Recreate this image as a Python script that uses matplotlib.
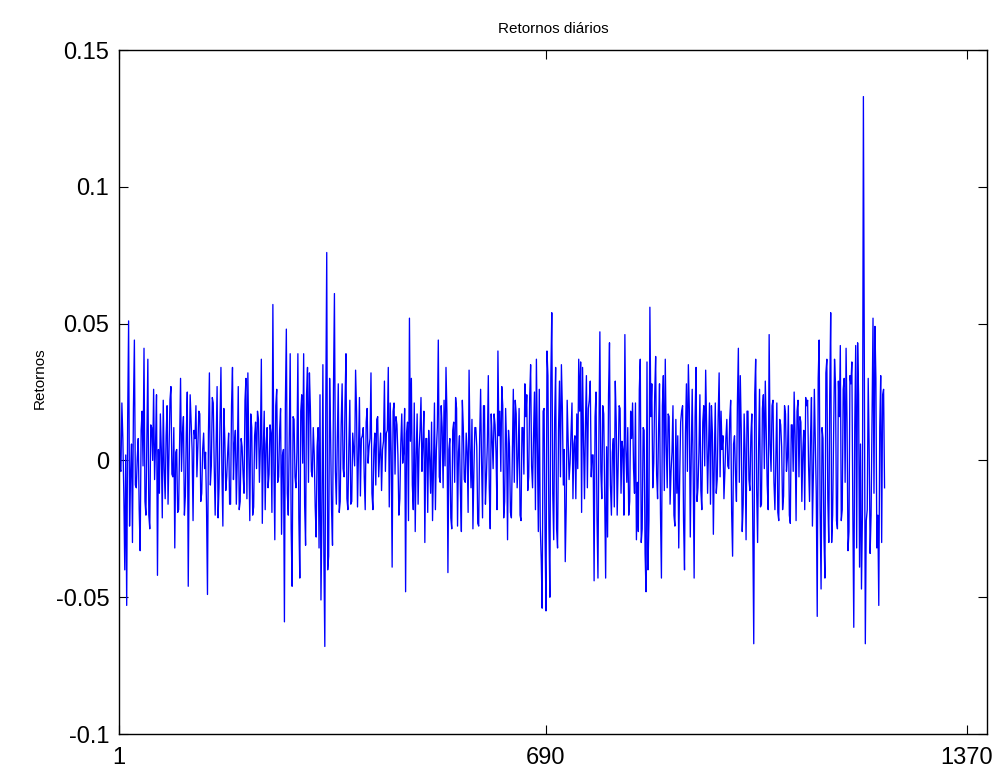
import numpy as np
import matplotlib
matplotlib.use("Agg")
import matplotlib.pyplot as plt

plt.rcParams['font.family'] = ['Liberation Sans', 'DejaVu Sans']
plt.rcParams['axes.unicode_minus'] = False

# retornos diários, lidos em quatro blocos ao longo da série
ret_bloco1 = [
    0.046, -0.004, 0.008, -0.040, -0.053, 0.051, -0.005, -0.030, 0.044, -0.010,
    0.008, -0.033, 0.018, 0.041, -0.020, 0.037, -0.025, 0.012, 0.026, 0.006,
    -0.042, -0.012, 0.004, 0.022, -0.014, 0.020, 0.002, 0.027, -0.006, -0.032,
    0.004, -0.018, 0.030, 0.010, -0.020, 0.010, -0.046, 0.024, 0.004, 0.011,
    0.020, 0.005, 0.017, -0.012, 0.010, 0.003, -0.049, 0.032, -0.002, 0.021,
    -0.020, 0.027, -0.010, 0.034, -0.024, 0.008, -0.006, 0.010, -0.016, 0.034,
    0.006, -0.016, 0.027, -0.015, 0.005, -0.012, 0.030, 0.032, -0.022, 0.012,
    -0.017, 0.014, 0.018, -0.008, 0.037, 0.004, -0.018, 0.012, -0.005, 0.010,
    0.057, -0.029, 0.026, -0.006, 0.019, 0.002, -0.059, 0.048, -0.020, 0.039,
    -0.046, 0.015, -0.010, 0.039, -0.043, 0.024, 0.039, -0.031, 0.034,
]
ret_bloco2 = [
    0.032, -0.004, 0.012, -0.017, 0.005, -0.032, -0.051, 0.035, -0.068, 0.076,
    -0.035, 0.010, -0.031, 0.061, -0.016, 0.028, -0.015, 0.028, -0.006, 0.039,
    -0.018, 0.022, -0.015, 0.004, 0.033, -0.017, 0.023, 0.008, 0.012, -0.018,
    0.019, 0.005, 0.032, -0.018, 0.010, 0.015, -0.006, 0.010, 0.004, 0.029,
    0.010, 0.034, 0.021, -0.039, 0.021, 0.016, 0.002, -0.014, 0.017, 0.003,
    -0.048, 0.014, 0.052, 0.030, -0.018, -0.026, 0.017, 0.004, 0.023, 0.006,
    -0.030, 0.008, 0.011, -0.012, -0.022, 0.021, 0.004, 0.044, -0.008, 0.012,
    0.022, 0.034, -0.041, 0.008, -0.025, 0.014, 0.023, -0.024, 0.009, -0.026,
    0.012, -0.008, 0.003, 0.033, -0.010, -0.025, 0.012, 0.005, -0.024, 0.026,
    -0.021, 0.020, -0.006, 0.031, -0.025, 0.008, 0.017, 0.003, 0.040,
]
ret_bloco3 = [
    0.018, 0.027, -0.021, 0.019, -0.029, 0.005, -0.021, 0.026, 0.022, -0.010,
    0.019, -0.022, 0.012, 0.028, 0.024, -0.006, 0.035, -0.010, 0.025, 0.037,
    -0.026, -0.024, -0.054, 0.019, -0.055, 0.031, -0.050, 0.054, -0.029, 0.034,
    -0.032, 0.029, 0.035, -0.009, -0.037, 0.022, -0.007, 0.010, -0.014, 0.009,
    0.017, 0.037, 0.036, 0.034, -0.014, 0.031, 0.019, 0.029, 0.002, -0.044,
    0.025, -0.043, 0.047, -0.014, 0.017, -0.043, -0.028, 0.043, -0.020, 0.008,
    0.029, -0.020, 0.020, -0.012, 0.004, 0.046, -0.008, -0.020, 0.018, 0.021,
    -0.012, -0.029, -0.026, 0.037, -0.025, 0.011, -0.048, -0.040, 0.056, 0.028,
    -0.001, 0.038, -0.014, 0.028, -0.043, 0.031, 0.037, -0.010, 0.016, -0.004,
    0.020, -0.024, -0.012, -0.032, 0.014, 0.020, -0.040, 0.028, 0.035, -0.028,
]
ret_bloco4 = [
    0.026, -0.043, 0.034, -0.010, 0.024, -0.018, 0.020, 0.033, -0.012, 0.021,
    0.020, -0.027, 0.021, -0.007, 0.032, 0.018, 0.009, -0.004, 0.015, -0.003,
    0.022, -0.035, 0.009, -0.015, 0.041, 0.031, -0.026, 0.017, -0.029, 0.018,
    -0.011, 0.017, -0.067, 0.037, -0.030, 0.026, -0.016, 0.024, 0.029, -0.009,
    0.046, -0.004, 0.022, -0.018, 0.021, -0.022, 0.013, -0.018, 0.020, -0.004,
    0.020, -0.023, 0.013, 0.025, -0.022, 0.022, 0.016, -0.015, 0.011, 0.023,
    0.022, -0.015, 0.023, -0.005, 0.006, -0.057, 0.044, -0.047, 0.008, -0.043,
    0.037, -0.030, 0.054, -0.020, 0.037, -0.022, 0.029, 0.042, -0.018, 0.030,
    0.041, -0.033, 0.031, 0.036, -0.061, 0.042, 0.043, -0.039, -0.047, 0.133,
    -0.067, -0.018, 0.004, -0.020, 0.052, 0.049, -0.032, -0.053, 0.031, 0.024,
    -0.010,
]

# dias intermediários (um entre cada par dos blocos acima)
ret_meio1 = [
    -0.003, 0.021, -0.012, 0.002, 0.015, -0.024, 0.006, 0.019, -0.009, 0.001,
    -0.018, 0.011, -0.002, -0.015, 0.008, -0.020, 0.013, 0.000, -0.007, 0.024,
    0.004, 0.017, -0.021, -0.003, 0.009, -0.016, 0.022, -0.005, 0.012, 0.003,
    -0.019, 0.007, -0.004, 0.016, -0.013, 0.025, -0.001, 0.014, -0.022, 0.008,
    -0.006, 0.018, -0.015, 0.004, -0.003, -0.017, 0.010, -0.009, 0.023, -0.002,
    0.006, -0.021, 0.014, -0.004, 0.019, -0.011, 0.003, -0.016, 0.020, -0.007,
    0.011, 0.001, -0.018, 0.008, -0.005, 0.022, -0.014, 0.002, 0.017, -0.020,
    0.009, -0.003, 0.015, 0.005, -0.023, 0.018, 0.006, -0.010, 0.013, -0.019,
    -0.002, 0.020, -0.008, 0.011, -0.027, 0.004, 0.021, -0.012, 0.007, -0.025,
    0.016, -0.006, 0.003, -0.021, 0.018, -0.001, -0.016, 0.024, -0.008,
]
ret_meio2 = [
    0.019, -0.006, 0.002, -0.028, 0.012, 0.024, -0.020, -0.035, 0.020, -0.040,
    0.030, -0.018, 0.026, -0.004, 0.008, -0.019, 0.013, -0.003, 0.021, -0.014,
    0.005, -0.016, 0.010, -0.002, 0.018, 0.003, -0.013, 0.009, -0.006, 0.014,
    -0.001, 0.008, -0.012, 0.004, -0.009, 0.016, 0.002, -0.011, 0.007, -0.004,
    0.011, -0.017, 0.003, 0.018, -0.005, 0.013, -0.020, 0.006, -0.001, 0.019,
    0.010, -0.022, 0.007, -0.009, 0.021, 0.002, -0.016, 0.011, -0.004, 0.018,
    0.008, -0.019, 0.001, 0.014, -0.003, -0.018, 0.012, -0.006, 0.020, -0.010,
    -0.002, 0.017, 0.004, -0.021, 0.011, -0.008, 0.019, 0.003, -0.012, 0.022,
    -0.007, 0.010, -0.019, 0.005, 0.015, -0.004, 0.012, -0.023, 0.008, -0.001,
    0.020, -0.016, 0.006, -0.010, 0.017, -0.003, 0.013, -0.018, 0.009,
]
ret_meio3 = [
    -0.004, 0.020, -0.015, 0.006, 0.011, -0.019, 0.003, -0.008, 0.017, 0.001,
    -0.020, 0.012, -0.005, 0.016, -0.011, 0.023, -0.002, 0.009, -0.018, 0.004,
    0.026, -0.036, 0.018, -0.028, 0.040, -0.024, 0.030, -0.012, 0.015, -0.025,
    0.011, -0.006, 0.019, 0.004, -0.017, 0.008, -0.001, 0.021, 0.006, -0.014,
    -0.003, 0.018, -0.019, 0.007, 0.013, -0.010, 0.022, -0.006, 0.002, 0.016,
    -0.021, 0.010, -0.004, 0.020, -0.012, 0.005, 0.024, -0.009, 0.003, -0.017,
    0.014, -0.002, 0.019, 0.007, -0.020, 0.004, 0.012, -0.015, 0.008, -0.003,
    0.021, -0.008, 0.026, -0.030, 0.012, -0.034, 0.036, -0.022, 0.016, -0.010,
    0.024, -0.005, 0.011, -0.019, 0.020, -0.011, 0.006, 0.017, -0.016, 0.003,
    -0.020, 0.015, 0.009, -0.006, 0.018, -0.022, 0.010, -0.004, 0.019, 0.002,
]
ret_meio4 = [
    -0.004, 0.016, -0.015, 0.003, -0.011, 0.014, -0.002, 0.012, 0.005, -0.016,
    0.010, 0.001, -0.012, 0.016, -0.006, 0.004, -0.014, 0.008, -0.002, 0.015,
    -0.019, 0.006, -0.005, 0.021, -0.008, 0.011, -0.016, 0.003, 0.018, -0.007,
    0.009, -0.026, 0.024, -0.010, 0.004, -0.017, 0.019, -0.003, 0.010, -0.018,
    0.006, 0.020, -0.008, 0.002, -0.019, 0.015, 0.005, -0.013, 0.017, 0.001,
    -0.020, 0.013, -0.004, 0.009, 0.018, -0.006, 0.014, 0.003, -0.018, 0.020,
    -0.002, 0.008, -0.024, 0.026, -0.012, 0.030, -0.018, 0.012, -0.028, 0.032,
    -0.014, 0.024, -0.030, 0.010, 0.028, -0.025, 0.016, -0.022, 0.026, -0.008,
    0.014, -0.026, 0.028, -0.018, 0.012, -0.032, 0.024, 0.006, -0.020, 0.036,
    -0.022, 0.030, -0.034, 0.018, -0.012, 0.030, -0.020, 0.012, -0.030, 0.026,
]

principais = np.array(ret_bloco1 + ret_bloco2 + ret_bloco3 + ret_bloco4)
meios = np.array(ret_meio1 + ret_meio2 + ret_meio3 + ret_meio4)

retornos = np.empty(len(principais) + len(meios))
retornos[0::2] = principais
retornos[1::2] = meios

ultimo_dia = 1237
dias = np.linspace(1, ultimo_dia, len(retornos))

xticks = [1, 690, 1370]
yticks = [-0.1, -0.05, 0, 0.05, 0.1, 0.15]
ytick_labels = ['-0.1', '-0.05', '0', '0.05', '0.1', '0.15']

fig = plt.figure(figsize=(10, 7.76), dpi=100)
ax = fig.add_axes([0.119, 0.0541, 0.868, 0.8814])

ax.plot(dias, retornos, color=(0, 0, 1), lw=0.95)

ax.set_xlim(1, 1402.4)
ax.set_ylim(-0.1, 0.15)
ax.set_xticks(xticks)
ax.set_xticklabels([str(t) for t in xticks])
ax.set_yticks(yticks)
ax.set_yticklabels(ytick_labels)

ax.tick_params(axis='both', direction='in', top=True, right=True,
               length=6.5, width=0.8, labelsize=17)
ax.tick_params(axis='x', pad=9)
ax.tick_params(axis='y', pad=7)
for s in ax.spines.values():
    s.set_linewidth(1.0)

ax.set_title('Retornos diários', fontsize=11, pad=12)
ax.set_ylabel('Retornos', fontsize=11)
ax.yaxis.set_label_coords(-0.083, 0.52)

fig.savefig('out.png', dpi=100)
